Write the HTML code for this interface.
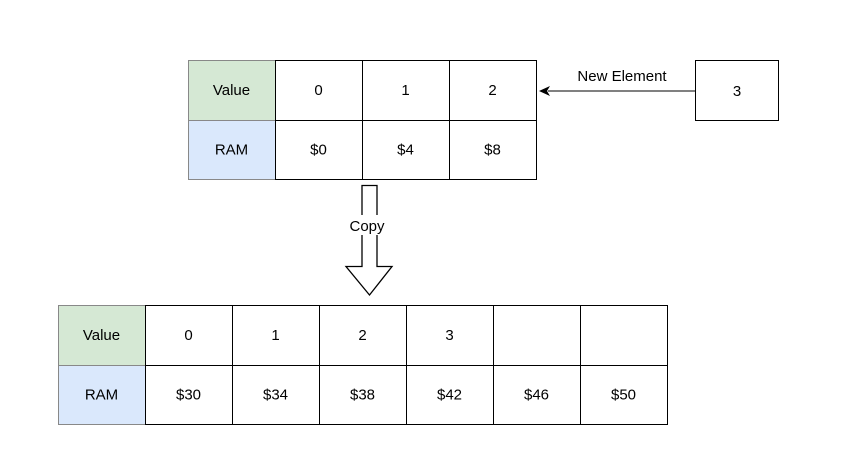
<!DOCTYPE html>
<html><head><meta charset="utf-8"><style>
html,body{margin:0;padding:0;background:#fff;width:853px;height:461px;overflow:hidden}
svg text{font-family:"Liberation Sans",Arial,sans-serif;font-size:15px;fill:#000}
</style></head><body>
<svg width="853" height="461" viewBox="0 0 853 461">
<g id="top"></g>
<g id="bot"></g>
<g>
<rect x="695.5" y="60.5" width="83" height="60" fill="#fff" stroke="#000"/>
<text x="737" y="96" text-anchor="middle">3</text>
</g>
<g>
<line x1="695" y1="91" x2="548" y2="91" stroke="#000" stroke-width="1"/>
<polygon points="539,91 550,86 547,91 550,96" fill="#000"/>
<text x="622" y="81" text-anchor="middle">New Element</text>
</g>
<g>
<polygon points="362,185.5 377,185.5 377,266.5 392,266.5 369.5,295 346,266.5 362,266.5" fill="#fff" stroke="#000" stroke-width="1.3"/>
<rect x="346" y="215" width="44" height="20" fill="#fff"/>
<text x="367" y="231" text-anchor="middle">Copy</text>
</g>
</svg>
<script>
const topValues=["0","1","2"];
const topRam=["$0","$4","$8"];
const botValues=["0","1","2","3","",""];
const botRam=["$30","$34","$38","$42","$46","$50"];
const NS="http://www.w3.org/2000/svg";
function mk(tag,attrs,parent){const e=document.createElementNS(NS,tag);for(const k in attrs)e.setAttribute(k,attrs[k]);parent.appendChild(e);return e;}
function table(g,x0,y0,vals,rams,prefix){
  const cw=87,rh=[60,59];
  const rows=[["Value",vals,"#d5e8d4"],["RAM",rams,"#dae8fc"]];
  let y=y0;
  rows.forEach((r,ri)=>{
    const h=rh[ri];
    const hc=mk('g',{},g);
    
    
    mk('rect',{x:x0+0.5,y:y+0.5,width:cw,height:h,fill:r[2],stroke:'#888'},hc);
    const t=mk('text',{x:x0+cw/2,y:y+h/2+5,'text-anchor':'middle'},hc);t.textContent=r[0];
    r[1].forEach((v,i)=>{
      const c=mk('g',{},g);
      
      
      const x=x0+cw*(i+1);
      mk('rect',{x:x+0.5,y:y+0.5,width:cw,height:h,fill:'#fff',stroke:'#000'},c);
      const tt=mk('text',{x:x+cw/2,y:y+h/2+5,'text-anchor':'middle'},c);tt.textContent=v;
    });
    y+=h;
  });
}
table(document.getElementById('top'),188,60,topValues,topRam,'top');
table(document.getElementById('bot'),58,305,botValues,botRam,'bottom');
</script>
</body></html>
